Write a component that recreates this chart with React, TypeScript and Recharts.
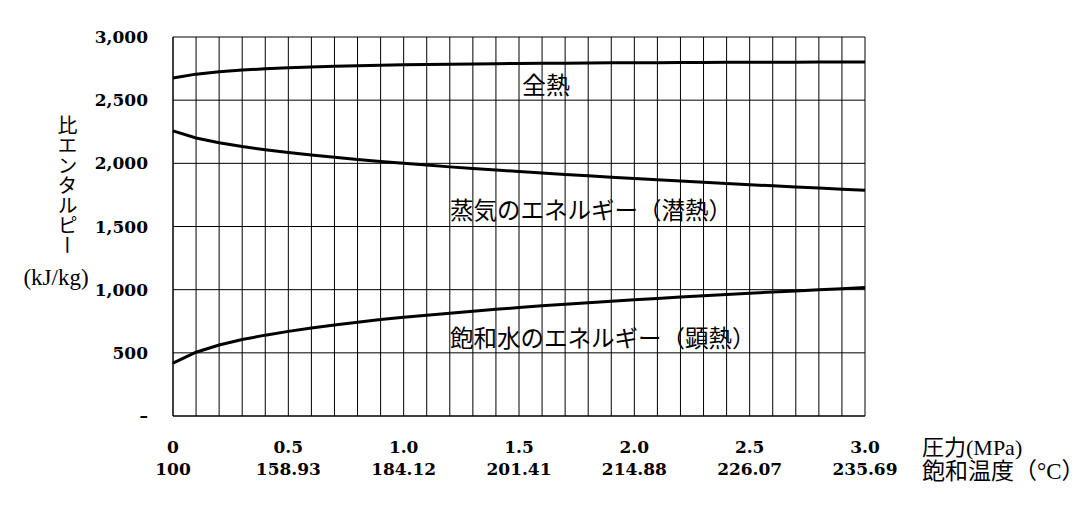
import React from 'react';
import { LineChart, Line, XAxis, YAxis, CartesianGrid } from 'recharts';

// gauge pressure (MPa), every 0.1
const pressure = [
  0, 0.1, 0.2, 0.3, 0.4, 0.5, 0.6, 0.7, 0.8, 0.9, 1.0,
  1.1, 1.2, 1.3, 1.4, 1.5, 1.6, 1.7, 1.8, 1.9, 2.0,
  2.1, 2.2, 2.3, 2.4, 2.5, 2.6, 2.7, 2.8, 2.9, 3.0,
];

// 全熱 (kJ/kg)
const totalHeat = [
  2676, 2706, 2725, 2738, 2748, 2756, 2763, 2768, 2773, 2777, 2780,
  2783, 2785, 2787, 2789, 2791, 2792, 2793, 2795, 2796, 2797,
  2797, 2798, 2799, 2800, 2800, 2801, 2801, 2802, 2802, 2802,
];

// 蒸気のエネルギー (潜熱)
const latentHeat = [
  2257, 2201, 2163, 2133, 2108, 2086, 2066, 2048, 2031, 2015, 2000,
  1986, 1972, 1960, 1947, 1935, 1923, 1912, 1901, 1890, 1880,
  1870, 1860, 1850, 1841, 1831, 1822, 1813, 1804, 1795, 1786,
];

// 飽和水のエネルギー (顕熱)
const sensibleHeat = [
  419, 505, 562, 605, 640, 670, 697, 721, 742, 763, 781,
  798, 814, 830, 845, 858, 872, 884, 897, 909, 920,
  931, 942, 952, 962, 972, 981, 990, 1000, 1008, 1017,
];

const majorPressure = [0, 0.5, 1.0, 1.5, 2.0, 2.5, 3.0];
const pressureLabels = ['0', '0.5', '1.0', '1.5', '2.0', '2.5', '3.0'];
const satTempLabels = ['100', '158.93', '184.12', '201.41', '214.88', '226.07', '235.69'];
const enthalpyTicks = [0, 500, 1000, 1500, 2000, 2500, 3000];

const data = pressure.map((p, i) => ({
  p,
  total: totalHeat[i],
  latent: latentHeat[i],
  sensible: sensibleHeat[i],
}));

const tickFont = "'DejaVu Serif', serif";
const jpFont = "'Liberation Serif', 'Noto Sans CJK JP', serif";

function PressureTick({ x, y, payload }: any) {
  const idx = majorPressure.findIndex((v) => Math.abs(v - payload.value) < 1e-6);
  if (idx < 0) return null;
  return (
    <g>
      <text x={x} y={y + 37} textAnchor="middle" fontFamily={tickFont} fontWeight="bold" fontSize={17} fill="#000">
        {pressureLabels[idx]}
      </text>
      <text x={x} y={y + 59} textAnchor="middle" fontFamily={tickFont} fontWeight="bold" fontSize={17} fill="#000">
        {satTempLabels[idx]}
      </text>
    </g>
  );
}

function EnthalpyTick({ x, y, payload }: any) {
  const label = payload.value === 0 ? '–' : payload.value.toLocaleString('en-US');
  return (
    <text x={x - 25} y={y + 6} textAnchor="end" fontFamily={tickFont} fontWeight="bold" fontSize={17} fill="#000">
      {label}
    </text>
  );
}

export default function App() {
  return (
    <div style={{ position: 'absolute', left: 0, top: 0, width: 1089, height: 513, background: '#fff' }}>
      <LineChart
        width={1089}
        height={513}
        data={data}
        margin={{ top: 37, right: 224, bottom: 0, left: 0 }}
      >
        <CartesianGrid stroke="#000" strokeWidth={1} />
        <XAxis
          dataKey="p"
          type="number"
          domain={[0, 3]}
          ticks={pressure}
          interval={0}
          height={97}
          tickSize={0}
          tickMargin={0}
          tickLine={false}
          axisLine={{ stroke: '#000' }}
          tick={<PressureTick />}
        />
        <YAxis
          type="number"
          domain={[0, 3000]}
          ticks={enthalpyTicks}
          interval={0}
          width={173}
          tickSize={0}
          tickMargin={0}
          tickLine={false}
          axisLine={{ stroke: '#000' }}
          tick={<EnthalpyTick />}
        />
        <Line type="linear" dataKey="total" stroke="#000" strokeWidth={3} dot={false} isAnimationActive={false} />
        <Line type="linear" dataKey="latent" stroke="#000" strokeWidth={3} dot={false} isAnimationActive={false} />
        <Line type="linear" dataKey="sensible" stroke="#000" strokeWidth={3} dot={false} isAnimationActive={false} />
      </LineChart>
      <svg
        width={1089}
        height={513}
        style={{ position: 'absolute', left: 0, top: 0, pointerEvents: 'none' }}
      >
        <text x={522} y={94} fontFamily={jpFont} fontSize={24} fill="#000">全熱</text>
        <text x={450} y={219} fontFamily={jpFont} fontSize={23.5} fill="#000">蒸気のエネルギー（潜熱）</text>
        <text x={450} y={347} fontFamily={jpFont} fontSize={23.5} fill="#000">飽和水のエネルギー（顕熱）</text>
        <text
          x={66}
          y={115}
          fontFamily={jpFont}
          fontSize={20}
          fill="#000"
          style={{ writingMode: 'vertical-rl' } as any}
        >
          比エンタルピー
        </text>
        <text x={56} y={285} textAnchor="middle" fontFamily={jpFont} fontSize={23} fill="#000">(kJ/kg)</text>
        <text x={922} y={455} fontFamily={jpFont} fontSize={22} fill="#000">圧力(MPa)</text>
        <text x={922} y={479} fontFamily={jpFont} fontSize={23} fill="#000">飽和温度（°C）</text>
      </svg>
    </div>
  );
}
